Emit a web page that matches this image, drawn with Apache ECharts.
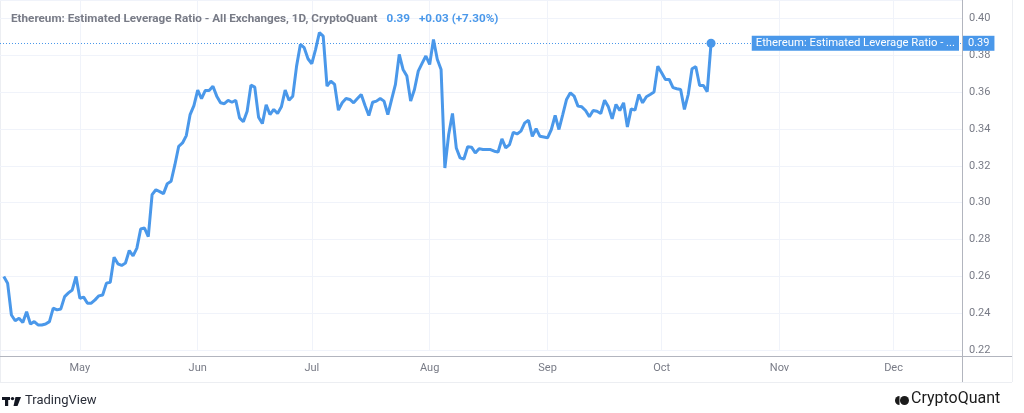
<!DOCTYPE html>
<html><head><meta charset="utf-8">
<script src="https://cdn.jsdelivr.net/npm/echarts@6/dist/echarts.min.js"></script>
<style>html,body{margin:0;padding:0;background:#fff}#c{width:1024px;height:413px}</style>
</head><body><div id="c"></div>
<script>
// ---- data ----
const seriesName = 'Ethereum: Estimated Leverage Ratio - All Exchanges, 1D, CryptoQuant';
const shortName = 'Ethereum: Estimated Leverage Ratio - ...';
const axisStart = '2024-04-10';
const axisEnd = '2024-12-19';
const dataStart = '2024-04-11';
const leverage = [
 0.2599,0.2563,0.2390,0.2359,0.2372,0.2349,0.2408,0.2341,0.2354,0.2336,
 0.2336,0.2341,0.2354,0.2427,0.2418,0.2423,0.2490,0.2510,0.2526,0.2599,
 0.2481,0.2487,0.2454,0.2454,0.2472,0.2494,0.2499,0.2563,0.2568,0.2704,
 0.2668,0.2659,0.2672,0.2740,0.2711,0.2753,0.2857,0.2862,0.2816,0.3043,
 0.3070,0.3060,0.3049,0.3103,0.3116,0.3206,0.3306,0.3324,0.3364,0.3478,
 0.3527,0.3611,0.3564,0.3609,0.3609,0.3632,0.3578,0.3542,0.3537,0.3555,
 0.3545,0.3556,0.3460,0.3439,0.3496,0.3638,0.3627,0.3464,0.3429,0.3531,
 0.3478,0.3506,0.3484,0.3520,0.3611,0.3556,0.3578,0.3741,0.3859,0.3841,
 0.3781,0.3754,0.3832,0.3923,0.3904,0.3632,0.3660,0.3642,0.3502,0.3542,
 0.3565,0.3560,0.3542,0.3565,0.3587,0.3527,0.3473,0.3545,0.3551,0.3565,
 0.3551,0.3478,0.3560,0.3642,0.3805,0.3723,0.3687,0.3551,0.3614,0.3714,
 0.3756,0.3796,0.3750,0.3886,0.3778,0.3723,0.3188,0.3370,0.3484,0.3297,
 0.3243,0.3237,0.3303,0.3301,0.3270,0.3293,0.3288,0.3288,0.3288,0.3279,
 0.3275,0.3346,0.3297,0.3315,0.3382,0.3373,0.3388,0.3433,0.3447,0.3360,
 0.3401,0.3360,0.3356,0.3352,0.3397,0.3473,0.3397,0.3478,0.3560,0.3596,
 0.3578,0.3524,0.3520,0.3500,0.3466,0.3500,0.3496,0.3484,0.3556,0.3520,
 0.3455,0.3533,0.3500,0.3542,0.3411,0.3509,0.3502,0.3587,0.3542,0.3575,
 0.3587,0.3600,0.3741,0.3705,0.3669,0.3669,0.3624,0.3618,0.3614,0.3506,
 0.3587,0.3727,0.3738,0.3636,0.3636,0.3602,0.3865
];
const monthNames = {'01':'Jan','02':'Feb','03':'Mar','04':'Apr','05':'May','06':'Jun','07':'Jul','08':'Aug','09':'Sep','10':'Oct','11':'Nov','12':'Dec'};
const yMin = 0.22, yMax = 0.41, yStep = 0.02;

// ---- helpers ----
function dayList(start, count, endStr) {
  const out = []; const d = new Date(start + 'T00:00:00Z');
  while (true) {
    const s = d.toISOString().slice(0,10);
    out.push(s);
    if ((count && out.length >= count) || (endStr && s === endStr)) break;
    d.setUTCDate(d.getUTCDate() + 1);
  }
  return out;
}
const categories = dayList(axisStart, 0, axisEnd);
const dataDates = dayList(dataStart, leverage.length);
const seriesData = dataDates.map((d, i) => [d, leverage[i]]);
const last = leverage[leverage.length - 1];
const prev = leverage[leverage.length - 2];
const chg = last - prev;
const pct = chg / prev * 100;
const isMonthStart = (idx, val) => val.slice(8) === '01';

const blue = '#4a98ea';
const grey = '#787b86';
const font = 'Roboto';

const chart = echarts.init(document.getElementById('c'), null, {renderer: 'canvas'});
chart.setOption({
  backgroundColor: '#ffffff',
  animation: false,
  textStyle: {fontFamily: font},
  title: {
    left: 6, top: 5,
    text: '{a|' + seriesName + '}  {b|' + last.toFixed(2) + '}  {b|' + (chg >= 0 ? '+' : '') + chg.toFixed(2) + ' (' + (pct >= 0 ? '+' : '') + pct.toFixed(2) + '%)}',
    textStyle: {
      rich: {
        a: {color: grey, fontSize: 11.7, fontFamily: font},
        b: {color: blue, fontSize: 11.7, fontFamily: font}
      }
    }
  },
  grid: {left: 0, right: 62, top: 0, bottom: 63, containLabel: false},
  xAxis: {
    type: 'category',
    data: categories,
    boundaryGap: false,
    offset: 6,
    axisLine: {show: true, lineStyle: {color: '#b2b5be', width: 1}},
    axisTick: {show: false},
    axisLabel: {
      interval: isMonthStart,
      formatter: v => monthNames[v.slice(5,7)],
      color: grey, fontSize: 11, margin: 7, fontFamily: font
    },
    splitLine: {show: true, interval: isMonthStart, lineStyle: {color: '#f0f3fa', width: 1}}
  },
  yAxis: {
    type: 'value',
    position: 'right',
    min: yMin, max: yMax, interval: yStep,
    axisLine: {show: true, lineStyle: {color: '#b2b5be', width: 1}},
    axisTick: {show: false},
    axisLabel: {
      showMaxLabel: false,
      formatter: v => v.toFixed(2),
      color: grey, fontSize: 11, margin: 7, fontFamily: font
    },
    splitLine: {show: true, lineStyle: {color: '#f0f3fa', width: 1}}
  },
  series: [{
    type: 'line',
    name: seriesName,
    data: seriesData,
    showSymbol: false,
    lineStyle: {color: blue, width: 3},
    itemStyle: {color: blue},
    markLine: {
      silent: true,
      symbol: 'none',
      lineStyle: {color: blue, type: [1, 2], width: 1},
      data: [[
        {coord: [categories[0], last]},
        {coord: [categories[categories.length - 1], last],
         label: {
          show: true, position: 'end', distance: 1,
          formatter: last.toFixed(2),
          backgroundColor: blue, color: '#fff',
          fontSize: 11, lineHeight: 12, padding: [2, 5, 1, 5], fontFamily: font
         }}
      ]],
      label: {
        show: true, position: 'end', distance: 1,
        formatter: last.toFixed(2),
        backgroundColor: blue, color: '#fff',
        fontSize: 11, lineHeight: 12, padding: [2, 5, 1, 5], fontFamily: font
      }
    },
    markPoint: {
      silent: true,
      data: [
        {coord: [dataDates[dataDates.length - 1], last], symbol: 'circle', symbolSize: 9,
         itemStyle: {color: blue}, label: {show: false}},
        {coord: [categories[categories.length - 1], last], symbol: 'circle', symbolSize: 0,
         label: {show: true, position: 'left', distance: 3, formatter: shortName,
                 backgroundColor: blue, color: '#fff', fontSize: 11.3, lineHeight: 12,
                 padding: [2, 4, 1, 4], fontFamily: font}}
      ]
    }
  }],
  graphic: [
    {type: 'line', shape: {x1: 962.5, y1: 350, x2: 962.5, y2: 382}, style: {stroke: '#b2b5be', lineWidth: 1}, silent: true},
    {type: 'line', shape: {x1: 962, y1: 356.5, x2: 1012, y2: 356.5}, style: {stroke: '#b2b5be', lineWidth: 1}, silent: true},
    {type: 'line', shape: {x1: 1012.5, y1: 0, x2: 1012.5, y2: 382}, style: {stroke: '#eceef2', lineWidth: 1}, silent: true},
    {type: 'line', shape: {x1: 0, y1: 382.5, x2: 1012, y2: 382.5}, style: {stroke: '#eceef2', lineWidth: 1}, silent: true},
    {type: 'line', shape: {x1: 0.5, y1: 0, x2: 0.5, y2: 382}, style: {stroke: '#eceef2', lineWidth: 1}, silent: true},
    // TradingView logo
    {type: 'rect', shape: {x: 2, y: 397, width: 8, height: 3}, style: {fill: '#131722'}, silent: true},
    {type: 'rect', shape: {x: 5, y: 397, width: 3.2, height: 9}, style: {fill: '#131722'}, silent: true},
    {type: 'circle', shape: {cx: 12.5, cy: 398.6, r: 1.7}, style: {fill: '#131722'}, silent: true},
    {type: 'polygon', shape: {points: [[15.5,397],[21,397],[17.5,406],[13.5,406]]}, style: {fill: '#131722'}, silent: true},
    {type: 'text', left: 25, top: 394, style: {text: 'TradingView', fill: '#2a2e39', fontSize: 13, fontFamily: font}, silent: true},
    // CryptoQuant logo
    {type: 'sector', shape: {cx: 899.5, cy: 400.5, r: 4.5, r0: 0, startAngle: Math.PI/2, endAngle: Math.PI*1.5}, style: {fill: '#1b1b1b'}, silent: true},
    {type: 'circle', shape: {cx: 904.5, cy: 400.5, r: 4.5}, style: {fill: '#1b1b1b'}, silent: true},
    {type: 'text', left: 911, top: 391, style: {text: 'CryptoQuant', fill: '#1b1b1b', fontSize: 16, fontFamily: font}, silent: true}
  ]
});
</script>
</body></html>
